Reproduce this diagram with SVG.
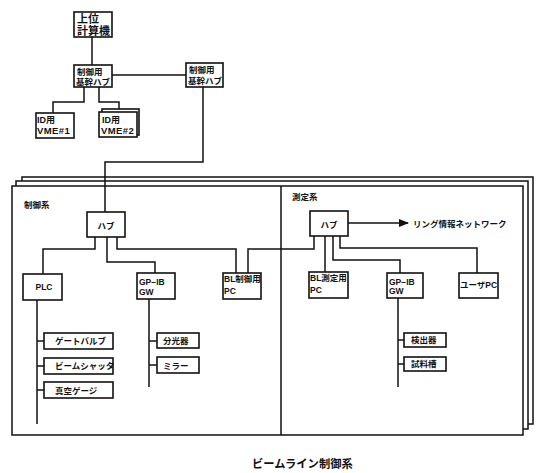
<svg xmlns="http://www.w3.org/2000/svg" width="554" height="473" viewBox="0 0 554 473">
<style>
.b{fill:#fff;stroke:#111;stroke-width:1.6}
.f{fill:#fff;stroke:#111;stroke-width:1.5}
.c{fill:none;stroke:#111;stroke-width:1.5}
text{font-family:"Liberation Sans","Noto Sans CJK JP",sans-serif;font-weight:bold;fill:#111;font-size:8.5px}
.m{text-anchor:middle}
.v{font-size:9.5px;letter-spacing:0.4px}
</style>
<defs>
<marker id="ah" markerWidth="10" markerHeight="8" refX="9" refY="4" orient="auto" markerUnits="userSpaceOnUse">
<path d="M0,0 L10,4 L0,8 Z" fill="#111"/>
</marker>
</defs>
<rect width="554" height="473" fill="#fff"/>
<g id="frames">
<rect class="f" x="22" y="177" width="511" height="247"/>
<rect class="f" x="16" y="181" width="512" height="248"/>
<rect class="f" x="12" y="186" width="511" height="249"/>
<line class="c" x1="281" y1="186" x2="281" y2="435"/>
<text x="24" y="208">制御系</text>
<text x="292" y="200">測定系</text>
</g>
<g id="connectors">
<polyline class="c" points="92,37 92,65"/>
<polyline class="c" points="112,75 186,75"/>
<polyline class="c" points="84,87 84,102 53,102 53,113"/>
<polyline class="c" points="99,87 99,102 119,102 119,109"/>
<polyline class="c" points="203,87 203,162 105,162 105,212"/>
<polyline class="c" points="95,237 95,249 43,249 43,274"/>
<polyline class="c" points="107,237 107,262 155,262 155,273"/>
<polyline class="c" points="117,237 117,249 236,249 236,273"/>
<polyline class="c" points="248,273 248,249 314,249 314,236"/>
<polyline class="c" points="325,236 325,272"/>
<polyline class="c" points="333,236 333,260 400,260 400,273"/>
<polyline class="c" points="340,236 340,248 477,248 477,273"/>
<line class="c" x1="348" y1="223" x2="408" y2="223" marker-end="url(#ah)"/>
<polyline class="c" points="37,300 37,424"/>
<polyline class="c" points="37,341 44,341"/>
<polyline class="c" points="37,366 44,366"/>
<polyline class="c" points="37,390 44,390"/>
<polyline class="c" points="149,299 149,387"/>
<polyline class="c" points="149,341 157,341"/>
<polyline class="c" points="149,365 157,365"/>
<polyline class="c" points="398,298 398,387"/>
<polyline class="c" points="398,340 404,340"/>
<polyline class="c" points="398,364 404,364"/>
</g>
<g id="host"><rect class="b" x="74" y="12" width="38" height="25"/><text x="77" y="23" style="font-size:11px">上位</text><text x="77" y="35" style="font-size:11px">計算機</text></g>
<g id="hub1"><rect class="b" x="74" y="65" width="38" height="22"/><text x="77" y="75">制御用</text><text x="76" y="85">基幹ハブ</text></g>
<g id="hub2"><rect class="b" x="186" y="63" width="37" height="24"/><text x="189" y="73">制御用</text><text x="188" y="83.5">基幹ハブ</text></g>
<g id="vme1"><rect class="b" x="36" y="113" width="38" height="25"/><text x="37" y="123" style="font-size:9px">ID用</text><text class="v" x="37" y="134">VME#1</text></g>
<g id="vme2"><rect class="b" x="102" y="109" width="37" height="26"/><rect class="b" x="99" y="112" width="38" height="25"/><text x="102" y="123" style="font-size:9px">ID用</text><text class="v" x="101" y="133.5">VME#2</text></g>
<g id="chub"><rect class="b" x="87" y="212" width="38" height="25"/><text class="m" x="106" y="228.5">ハブ</text></g>
<g id="mhub"><rect class="b" x="310" y="211" width="38" height="25"/><text class="m" x="329" y="227.5">ハブ</text></g>
<text x="413" y="226.5">リング情報ネットワーク</text>
<g id="plc"><rect class="b" x="23" y="274" width="39" height="26"/><text class="m" x="44" y="290">PLC</text></g>
<g id="gpib1"><rect class="b" x="137" y="273" width="38" height="26"/><text x="139" y="285">GP−IB</text><text x="139" y="295">GW</text></g>
<g id="blc"><rect class="b" x="223" y="273" width="38" height="26"/><text x="224" y="282">BL制御用</text><text x="224" y="294">PC</text></g>
<g id="blm"><rect class="b" x="309" y="272" width="39" height="26"/><text x="310" y="281">BL測定用</text><text x="310" y="293">PC</text></g>
<g id="gpib2"><rect class="b" x="387" y="273" width="36" height="25"/><text x="389" y="284.5">GP−IB</text><text x="389" y="294">GW</text></g>
<g id="upc"><rect class="b" x="459" y="273" width="39" height="25"/><text class="m" x="478.5" y="288">ユーザPC</text></g>
<g id="gate"><rect class="b" x="44" y="333" width="69" height="16"/><text x="55" y="344">ゲートバルブ</text></g>
<g id="shutter"><rect class="b" x="44" y="358" width="69" height="16"/><text x="55" y="369">ビームシャッタ</text></g>
<g id="gauge"><rect class="b" x="44" y="382" width="69" height="16"/><text x="55" y="393.5">真空ゲージ</text></g>
<g id="spec"><rect class="b" x="157" y="333" width="42" height="15"/><text x="163" y="344">分光器</text></g>
<g id="mirror"><rect class="b" x="157" y="357" width="42" height="16"/><text x="163" y="368.5">ミラー</text></g>
<g id="det"><rect class="b" x="404" y="333" width="42" height="14"/><text x="411" y="343">検出器</text></g>
<g id="sample"><rect class="b" x="404" y="357" width="42" height="14"/><text x="411" y="367">試料槽</text></g>
<text x="252" y="468" style="font-size:11.3px">ビームライン制御系</text>
</svg>
